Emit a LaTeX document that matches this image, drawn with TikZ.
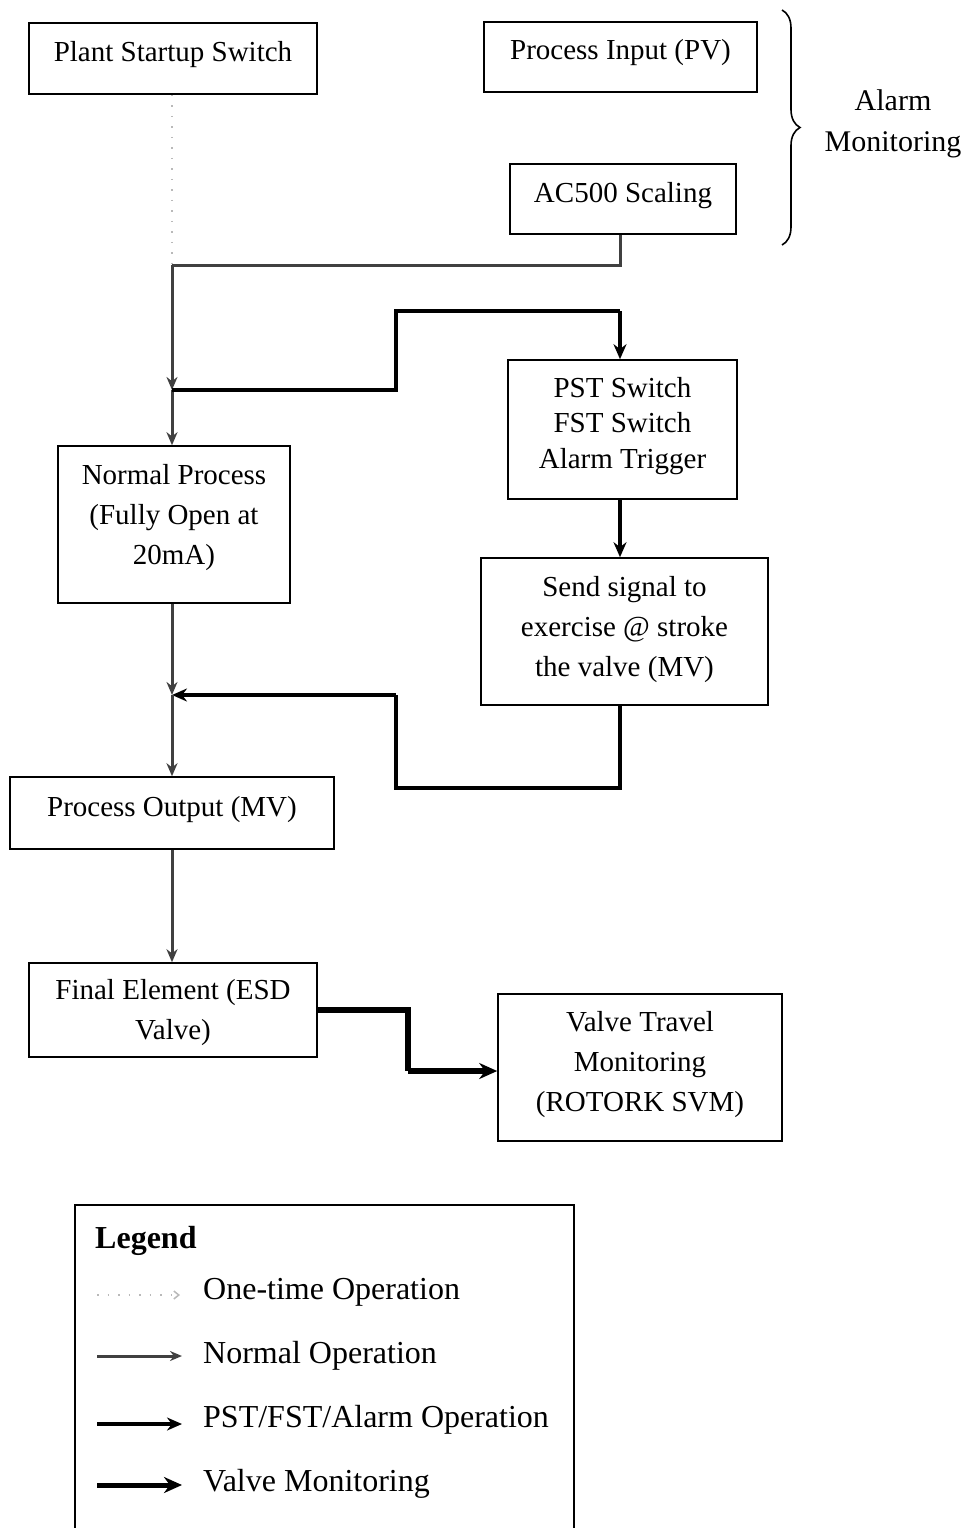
\documentclass[tikz,border=0pt]{standalone}
\usepackage{fontspec}
\setmainfont{Liberation Serif}
\usetikzlibrary{arrows.meta,decorations.pathreplacing}
\begin{document}
\begin{tikzpicture}[x=1pt,y=-1pt,
  box/.style={draw,line width=1.6pt,inner sep=0pt},
  btxt/.style={align=center,inner sep=0pt,font=\fontsize{29}{40}\selectfont},
  onetime/.style={gray!55,line width=1.5pt,dash pattern=on 1.5pt off 9pt},
  normalop/.style={black!75,line width=3pt,-{Stealth[length=13pt,width=11pt]}},
  normalseg/.style={black!75,line width=3pt},
  pstop/.style={black,line width=4.5pt,-{Stealth[length=15pt,width=13pt]}},
  pstseg/.style={black,line width=4.5pt},
  valveop/.style={black,line width=6pt,-{Stealth[length=18pt,width=16pt]}},
  legtxt/.style={font=\fontsize{32}{40}\selectfont,anchor=base west,inner sep=0pt},
  txt/.style={font=\fontsize{30}{41}\selectfont,align=center,inner sep=0pt}]
\useasboundingbox (0,0) rectangle (974,1528);
\node[box,minimum width=288pt,minimum height=71pt] (plant) at (173,58.5) {};
\node[btxt] (plant-t) at (173,55) {Plant Startup Switch};
\node[box,minimum width=273pt,minimum height=70pt] (pv) at (620.5,57) {};
\node[btxt] (pv-t) at (620.5,53) {Process Input (PV)};
\node[box,minimum width=226pt,minimum height=70pt] (ac) at (623,199) {};
\node[btxt] (ac-t) at (623,196) {AC500 Scaling};
\node[box,minimum width=229pt,minimum height=139pt] (pst) at (622.5,429.5) {};
\node[btxt,font=\fontsize{29}{35.5}\selectfont] (pst-t) at (622.5,426) {PST Switch\\FST Switch\\Alarm Trigger};
\node[box,minimum width=232pt,minimum height=157pt] (normal) at (174,524.5) {};
\node[btxt] (normal-t) at (174,518) {Normal Process\\(Fully Open at\\20mA)};
\node[box,minimum width=287pt,minimum height=147pt] (send) at (624.5,631.5) {};
\node[btxt] (send-t) at (624.5,630) {Send signal to\\exercise @ stroke\\the valve (MV)};
\node[box,minimum width=324pt,minimum height=72pt] (out) at (172,813) {};
\node[btxt] (out-t) at (172,810) {Process Output (MV)};
\node[box,minimum width=288pt,minimum height=94pt] (final) at (173,1010) {};
\node[btxt] (final-t) at (173,1013) {Final Element (ESD\\Valve)};
\node[box,minimum width=284pt,minimum height=147pt] (valve) at (640,1067.5) {};
\node[btxt] (valve-t) at (640,1064.5) {Valve Travel\\Monitoring\\(ROTORK SVM)};
\draw[decorate,decoration={brace,amplitude=18pt},line width=1.6pt] (782,10) -- (782,245);
\node[txt] (alarm) at (893,124) {Alarm\\Monitoring};
% connectors
\coordinate (j1) at (172,265);
\coordinate (j2) at (172,390);
\coordinate (j3) at (172,695);
\draw[onetime] (plant.south -| j1) -- (j1);
\draw[normalseg] (ac.south -| 620,0) -- (620,265) -- (j1);
\draw[normalop] (j1) -- (j2);
\draw[normalop] (j2) -- (normal.north -| j2);
\draw[pstseg] (j2) -- (396,390) -- (396,311) -- (620,311);
\draw[pstop] (620,311) -- (pst.north -| 620,0);
\draw[pstop] (pst.south -| 620,0) -- (send.north -| 620,0);
\draw[pstseg] (send.south -| 620,0) -- (620,788) -- (396,788) -- (396,695);
\draw[pstop] (396,695) -- (j3);
\draw[normalop] (normal.south -| j3) -- (j3);
\draw[normalop] (j3) -- (out.north -| j3);
\draw[normalop] (out.south -| j3) -- (final.north -| j3);
\draw[line width=6pt] (final.east) -- (408,1010) -- (408,1071);
\draw[valveop] (408,1071) -- (valve.west |- 0,1071);
% legend
\draw[line width=1.6pt] (75,1540) -- (75,1205) -- (574,1205) -- (574,1540);
\node[legtxt,font=\fontsize{32}{40}\selectfont\bfseries] (lg) at (95,1248) {Legend};
\coordinate (a1) at (97,1295); \coordinate (b1) at (180,1295);
\coordinate (a2) at (97,1356); \coordinate (b2) at (182,1356);
\coordinate (a3) at (97,1424); \coordinate (b3) at (182,1424);
\coordinate (a4) at (97,1485); \coordinate (b4) at (182,1485);
\draw[onetime,-{Straight Barb[length=5pt,width=8pt]}] (a1) -- (b1);
\draw[normalop,-{Stealth[length=12pt,width=10pt]}] (a2) -- (b2);
\draw[pstop,line width=4pt] (a3) -- (b3);
\draw[valveop,line width=5pt] (a4) -- (b4);
\node[legtxt] (l1) at (203,1299) {One-time Operation};
\node[legtxt] (l2) at (203,1363) {Normal Operation};
\node[legtxt] (l3) at (203,1427) {PST/FST/Alarm Operation};
\node[legtxt] (l4) at (203,1491) {Valve Monitoring};
\end{tikzpicture}
\end{document}
